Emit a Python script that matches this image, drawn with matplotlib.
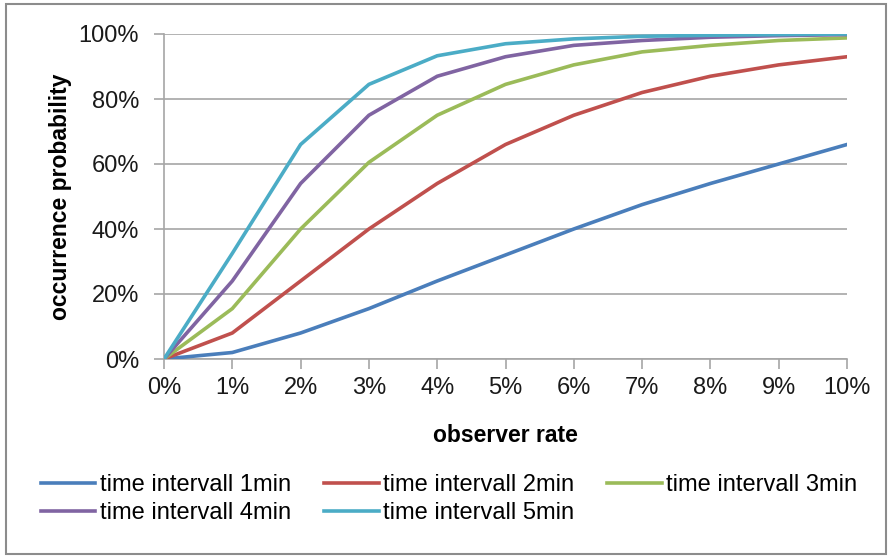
import numpy as np
import matplotlib
matplotlib.use('Agg')
import matplotlib.pyplot as plt
import matplotlib.ticker as mticker
from matplotlib.patches import Rectangle

plt.rcParams['font.family'] = ['Liberation Sans', 'DejaVu Sans']

# ---------------------------------------------------------------------------
# Data (values in %)
# ---------------------------------------------------------------------------
observer_rate = [0, 1, 2, 3, 4, 5, 6, 7, 8, 9, 10]

prob_1min = [0, 2, 8, 15.5, 24, 32, 40, 47.5, 54, 60, 66]
prob_2min = [0, 8, 24, 40, 54, 66, 75, 82, 87, 90.5, 93]
prob_3min = [0, 15.5, 40, 60.5, 75, 84.5, 90.5, 94.5, 96.5, 98, 98.8]
prob_4min = [0, 24, 54, 75, 87, 93, 96.5, 98, 99, 99.5, 99.8]
prob_5min = [0, 32.5, 66, 84.5, 93.3, 97, 98.5, 99.3, 99.6, 99.8, 100]

series_labels = ['time intervall 1min', 'time intervall 2min', 'time intervall 3min',
                 'time intervall 4min', 'time intervall 5min']
series_values = [prob_1min, prob_2min, prob_3min, prob_4min, prob_5min]
series_colours = ['#4A7EBB', '#C0504D', '#9BBB59', '#8064A2', '#4BACC6']

# ---------------------------------------------------------------------------
W, H = 890, 556
fig = plt.figure(figsize=(W / 100, H / 100), dpi=100)
ax = fig.add_axes([164 / W, 1 - 359 / H, (847 - 164) / W, (359 - 34) / H])

handles = []
for vals, lab, col in zip(series_values, series_labels, series_colours):
    h, = ax.plot(observer_rate, vals, color=col, linewidth=2.6, label=lab,
                 solid_joinstyle='miter', zorder=3)
    handles.append(h)

grid_col = '#A6A6A6'
ax.set_xlim(0, 10)
ax.set_ylim(0, 100)
ax.set_xticks(observer_rate)
ax.set_yticks(np.arange(0, 101, 20))
ax.xaxis.set_major_formatter(mticker.FuncFormatter(lambda v, p: f'{v:.0f}%'))
ax.yaxis.set_major_formatter(mticker.FuncFormatter(lambda v, p: f'{v:.0f}%'))
ax.yaxis.grid(True, color=grid_col, linewidth=1.2, zorder=0)
ax.tick_params(axis='both', colors=grid_col, labelcolor='#1a1a1a',
               labelsize=17, length=7, width=1.2, direction='out')
ax.tick_params(axis='x', pad=6)
ax.tick_params(axis='y', pad=11)
for s in ['top', 'right']:
    ax.spines[s].set_visible(False)
for s in ['left', 'bottom']:
    ax.spines[s].set_color(grid_col)
    ax.spines[s].set_linewidth(1.2)

ax.set_xlabel('observer rate', fontsize=16.5, fontweight='bold', va='center')
ax.set_ylabel('occurrence probability', fontsize=16.5, fontweight='bold', va='center')
ax.xaxis.set_label_coords(0.5, (359 - 436) / 325)
ax.yaxis.set_label_coords((60 - 164) / 683, 0.5)

# legend: row-wise order like the reference
order = [0, 3, 1, 4, 2]
fig.legend([handles[i] for i in order], [series_labels[i] for i in order],
           loc='upper left', bbox_to_anchor=(41 / W, 1 - 474 / H), ncol=3,
           frameon=False, fontsize=17, handlelength=2.3, handletextpad=0.2,
           columnspacing=1.4, labelspacing=0.25, borderpad=0, borderaxespad=0)

# outer chart frame
fig.patches.append(Rectangle((6 / W, 1 - 554 / H), 880 / W, 550 / H,
                             transform=fig.transFigure, fill=False,
                             edgecolor='#8C8C8C', linewidth=1.5))

fig.savefig('out.png', dpi=100)
